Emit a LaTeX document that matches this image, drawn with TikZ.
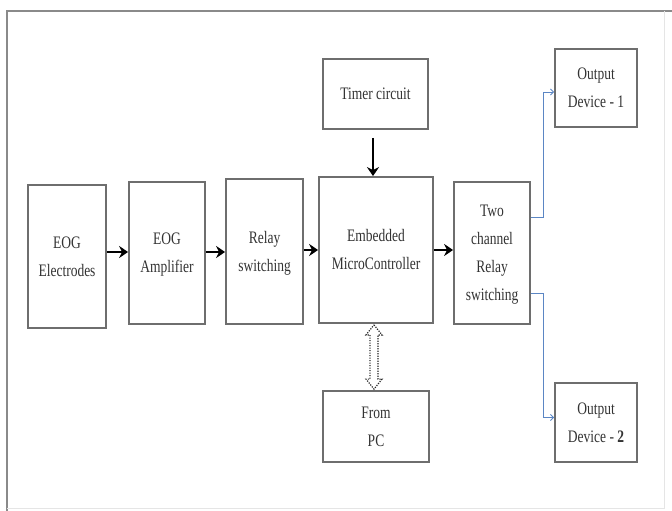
\documentclass[tikz,border=0pt]{standalone}
\usepackage{fontspec}
\setmainfont{Liberation Serif}
\usetikzlibrary{arrows.meta,calc}
\definecolor{boxgray}{HTML}{6E6E6E}
\definecolor{framegray}{HTML}{8A8A8A}
\definecolor{linkblue}{HTML}{5B86C4}
\newcommand{\talltext}[1]{\scalebox{1}[1.3]{\begin{tabular}{@{}c@{}}#1\end{tabular}}}
\begin{document}
\begin{tikzpicture}[x=1pt,y=-1pt,
  blk/.style={draw=boxgray,line width=1.8pt,align=center,inner sep=0pt,
    font=\fontsize{13.5}{21.5}\selectfont,text=black!80},
  flow/.style={line width=2.6pt,-{Stealth[length=9pt,width=12pt]}},
  link/.style={draw=linkblue,line width=0.9pt,-{Straight Barb[length=3pt,width=6pt]}},
  dotarrow/.style={draw=black!85,line width=1.2pt,dash pattern=on 1.2pt off 1.3pt}]
\useasboundingbox (0,0) rectangle (672,511);
% frame
\draw[framegray,line width=2.5pt] (672,11) -- (7,11) -- (7,511);
\draw[black!10,line width=1pt] (664,11) -- (664,508) -- (7,508);
% blocks
\node[blk,minimum width=78pt,minimum height=143pt] (el) at (67,256.5) {\talltext{EOG\\Electrodes}};
\node[blk,minimum width=76pt,minimum height=142pt] (amp) at (167,253) {\talltext{EOG\\Amplifier}};
\node[blk,minimum width=77pt,minimum height=145pt] (rs) at (264.5,251.5) {\talltext{Relay\\switching}};
\node[blk,minimum width=114pt,minimum height=146pt] (mc) at (376,250) {\talltext{Embedded\\MicroController}};
\node[blk,minimum width=76pt,minimum height=142pt] (tc) at (492,253) {\talltext{Two\\channel\\Relay\\switching}};
\node[blk,minimum width=105pt,minimum height=70pt] (timer) at (375.5,94) {\talltext{Timer circuit}};
\node[blk,minimum width=106pt,minimum height=71pt] (pc) at (376,426.5) {\talltext{From\\PC}};
\node[blk,minimum width=82pt,minimum height=78pt] (o1) at (596,88) {\talltext{Output\\Device - 1}};
\node[blk,minimum width=82pt,minimum height=79pt] (o2) at (596,422.5) {\talltext{Output\\Device - \textbf{2}}};
% main flow
\draw[flow] ([yshift=4.5pt]el.east) -- ([yshift=4.5pt]el.east -| amp.west);
\draw[flow] ([yshift=1pt]amp.east) -- ([yshift=1pt]amp.east -| rs.west);
\draw[flow] ([yshift=1.5pt]rs.east) -- ([yshift=1.5pt]rs.east -| mc.west);
\draw[flow] (mc.east) -- (mc.east -| tc.west);
\draw[flow] ([xshift=-2.5pt,yshift=-8pt]timer.south) -- ([xshift=-2.5pt]timer.south |- mc.north);
% outputs
\draw[link] ([yshift=36pt]tc.east) -- ++(13,0) |- ([yshift=-4pt]o1.west);
\draw[link] ([yshift=-40pt]tc.east) -- ++(13,0) |- ([yshift=5pt]o2.west);
% bidirectional dotted block arrow
\coordinate (dt) at ([xshift=-2pt,yshift=-1pt]mc.south);
\coordinate (db) at ([xshift=-2pt,yshift=1pt]pc.north);
\draw[dotarrow] (dt) -- ++(8,10) -- ++(-4,0) -- ($(db)+(4,-10)$) -- ++(4,0) -- (db)
  -- ++(-8,-10) -- ++(4,0) -- ($(dt)+(-4,10)$) -- ++(-4,0) -- cycle;
\end{tikzpicture}
\end{document}
